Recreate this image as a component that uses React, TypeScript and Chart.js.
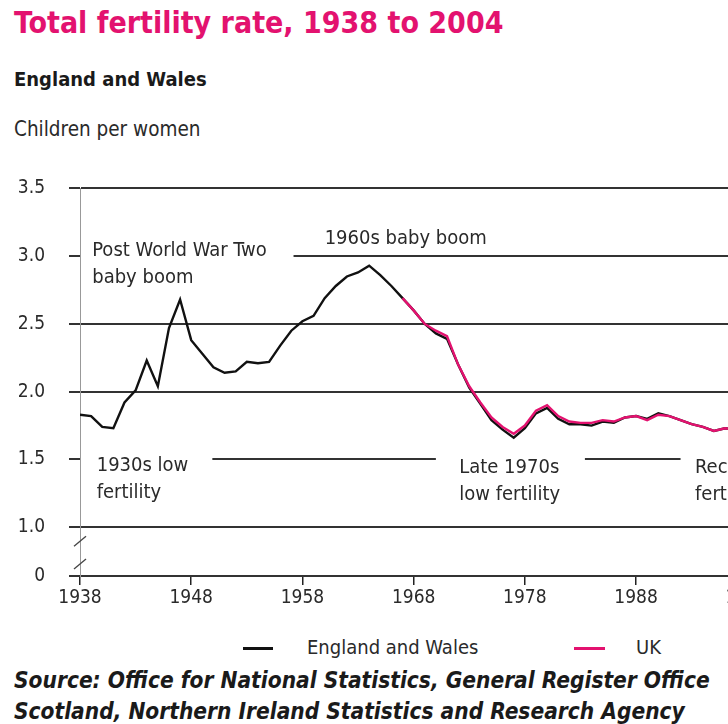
import React, { useEffect, useRef } from "react";
import { Chart, registerables } from "chart.js";

Chart.register(...registerables);

const ewYears = Array.from({ length: 67 }, (_, i) => 1938 + i);
const ewValues = [
  1.83, 1.82, 1.74, 1.73, 1.92, 2.01, 2.23, 2.04, 2.47, 2.68,
  2.38, 2.28, 2.18, 2.14, 2.15, 2.22, 2.21, 2.22, 2.34, 2.45,
  2.52, 2.56, 2.69, 2.78, 2.85, 2.88, 2.93, 2.86, 2.78, 2.69,
  2.60, 2.50, 2.43, 2.39, 2.20, 2.03, 1.91, 1.79, 1.72, 1.66,
  1.73, 1.84, 1.88, 1.80, 1.76, 1.76, 1.75, 1.78, 1.77, 1.81,
  1.82, 1.80, 1.84, 1.82, 1.79, 1.76, 1.74, 1.71, 1.73, 1.72,
  1.71, 1.68, 1.65, 1.63, 1.64, 1.71, 1.77,
];
const ukYears = Array.from({ length: 38 }, (_, i) => 1967 + i);
const ukValues = [
  2.69, 2.60, 2.50, 2.45, 2.41, 2.20, 2.04, 1.92, 1.81, 1.74,
  1.69, 1.75, 1.86, 1.90, 1.82, 1.78, 1.77, 1.77, 1.79, 1.78,
  1.81, 1.82, 1.79, 1.83, 1.82, 1.79, 1.76, 1.74, 1.71, 1.73,
  1.72, 1.71, 1.68, 1.64, 1.63, 1.64, 1.71, 1.77,
];
const xTickYears = [1938, 1948, 1958, 1968, 1978, 1988, 1998];
const yTickValues = [1.0, 1.5, 2.0, 2.5, 3.0, 3.5];
const yBreakValue = 0.64; // drawn as "0" below the axis break
const seriesNames = ["England and Wales", "UK"];

const annotations = [
  { lines: ["Post World War Two", "baby boom"], x: 1939.1, y: 3.04, cover: [1938, 1957.2] },
  { lines: ["1960s baby boom"], x: 1960.0, y: 3.125, cover: null },
  { lines: ["1930s low", "fertility"], x: 1939.5, y: 1.45, cover: [1938, 1949.9] },
  { lines: ["Late 1970s", "low fertility"], x: 1972.1, y: 1.44, cover: [1970.0, 1983.4] },
  { lines: ["Record low", "fertility"], x: 1993.3, y: 1.44, cover: [1992.0, 2004] },
];

const FONT = '"Liberation Sans Narrow", "DejaVu Sans Condensed", "Open Sans", sans-serif';
const PINK = "#e3126f";

const annotationPlugin = {
  id: "annot",
  beforeDatasetsDraw(chart: any) {
    const { ctx, scales, chartArea } = chart;
    const xs = scales.x;
    const ys = scales.y;
    ctx.save();
    ctx.font = `20px ${FONT}`;
    ctx.textBaseline = "middle";
    ctx.textAlign = "left";
    for (const a of annotations) {
      const px = xs.getPixelForValue(a.x);
      const py = ys.getPixelForValue(a.y);
      if (a.cover) {
        const x0 = Math.max(chartArea.left + 1, xs.getPixelForValue(a.cover[0]));
        const x1 = xs.getPixelForValue(a.cover[1]);
        ctx.fillStyle = "#ffffff";
        ctx.fillRect(x0, py - 14, x1 - x0, a.lines.length * 28);
      }
      ctx.fillStyle = "#2a2a2a";
      a.lines.forEach((t, i) => ctx.fillText(t, px, py + i * 27));
    }
    // axis break marks
    const ax = chartArea.left;
    const b1 = ys.getPixelForValue(1.0) + 14;
    const b2 = chartArea.bottom - 12;
    ctx.strokeStyle = "#444";
    ctx.lineWidth = 1.3;
    for (const b of [b1, b2]) {
      ctx.beginPath();
      ctx.moveTo(ax - 6, b + 5);
      ctx.lineTo(ax + 6, b - 5);
      ctx.stroke();
    }
    ctx.restore();
  },
};

function LineChart() {
  const ref = useRef<HTMLCanvasElement>(null);
  useEffect(() => {
    const ctx = ref.current!.getContext("2d")!;
    const chart = new Chart(ctx, {
      type: "line",
      data: {
        datasets: [
          {
            label: seriesNames[0],
            data: ewYears.map((y, i) => ({ x: y, y: ewValues[i] })),
            borderColor: "#111111",
            borderWidth: 2.4,
            pointRadius: 0,
            tension: 0,
            order: 1,
          },
          {
            label: seriesNames[1],
            data: ukYears.map((y, i) => ({ x: y, y: ukValues[i] })),
            borderColor: PINK,
            borderWidth: 2.4,
            pointRadius: 0,
            tension: 0,
            order: 0,
          },
        ],
      },
      options: {
        animation: false,
        responsive: false,
        maintainAspectRatio: false,
        layout: { padding: { top: 16, right: 16, left: 0, bottom: 0 } },
        plugins: { legend: { display: false }, tooltip: { enabled: false } },
        scales: {
          x: {
            type: "linear",
            min: 1938,
            max: 2004,
            afterBuildTicks: (s: any) => {
              s.ticks = xTickYears.map((v) => ({ value: v }));
            },
            afterFit: (s: any) => {
              s.height = 44;
            },
            grid: { drawOnChartArea: false, drawTicks: true, tickLength: 9, color: "#222", lineWidth: 1.5 },
            border: { display: false },
            ticks: {
              color: "#2a2a2a",
              font: { family: FONT, size: 19 },
              padding: 2,
              maxRotation: 0,
              autoSkip: false,
              callback: (v: any) => String(v),
            },
          },
          y: {
            type: "linear",
            min: yBreakValue,
            max: 3.5,
            afterBuildTicks: (s: any) => {
              s.ticks = [yBreakValue, ...yTickValues].map((v) => ({ value: v }));
            },
            afterFit: (s: any) => {
              s.width = 80;
            },
            grid: { drawOnChartArea: true, drawTicks: true, tickLength: 11, color: "#333", lineWidth: 2 },
            border: { display: true, color: "#999", width: 1 },
            ticks: {
              color: "#2a2a2a",
              font: { family: FONT, size: 19 },
              padding: 24,
              autoSkip: false,
              callback: (v: any) => (v === yBreakValue ? "0" : Number(v).toFixed(1)),
            },
          },
        },
      },
      plugins: [annotationPlugin],
    });
    return () => chart.destroy();
  }, []);
  return (
    <canvas
      ref={ref}
      width={830}
      height={467}
      style={{ position: "absolute", left: 0, top: 153, width: 830, height: 467 }}
    />
  );
}

export default function App() {
  const txt: React.CSSProperties = { position: "absolute", fontFamily: FONT, whiteSpace: "nowrap", margin: 0 };
  return (
    <div style={{ position: "fixed", left: 0, top: 0, width: 728, height: 724, overflow: "hidden", background: "#fff" }}>
      <div style={{ ...txt, left: 14, top: 5, fontSize: 30, fontWeight: 700, color: PINK }}>
        Total fertility rate, 1938 to 2004
      </div>
      <div style={{ ...txt, left: 14, top: 67, fontSize: 20, fontWeight: 700, color: "#1a1a1a" }}>England and Wales</div>
      <div style={{ ...txt, left: 14, top: 117, fontSize: 20.5, color: "#2a2a2a" }}>Children per women</div>
      <LineChart />
      <div style={{ position: "absolute", left: 243, top: 647, width: 30, height: 3, background: "#111" }} />
      <div style={{ ...txt, left: 307, top: 635, fontSize: 20, color: "#2a2a2a" }}>{seriesNames[0]}</div>
      <div style={{ position: "absolute", left: 574, top: 647, width: 31, height: 3, background: PINK }} />
      <div style={{ ...txt, left: 636, top: 635, fontSize: 20, color: "#2a2a2a" }}>{seriesNames[1]}</div>
      <div style={{ ...txt, left: 14, top: 665, fontSize: 22.5, fontWeight: 700, fontStyle: "italic", color: "#1a1a1a", lineHeight: "31px" }}>
        Source: Office for National Statistics, General Register Office
        <br />
        Scotland, Northern Ireland Statistics and Research Agency
      </div>
    </div>
  );
}
